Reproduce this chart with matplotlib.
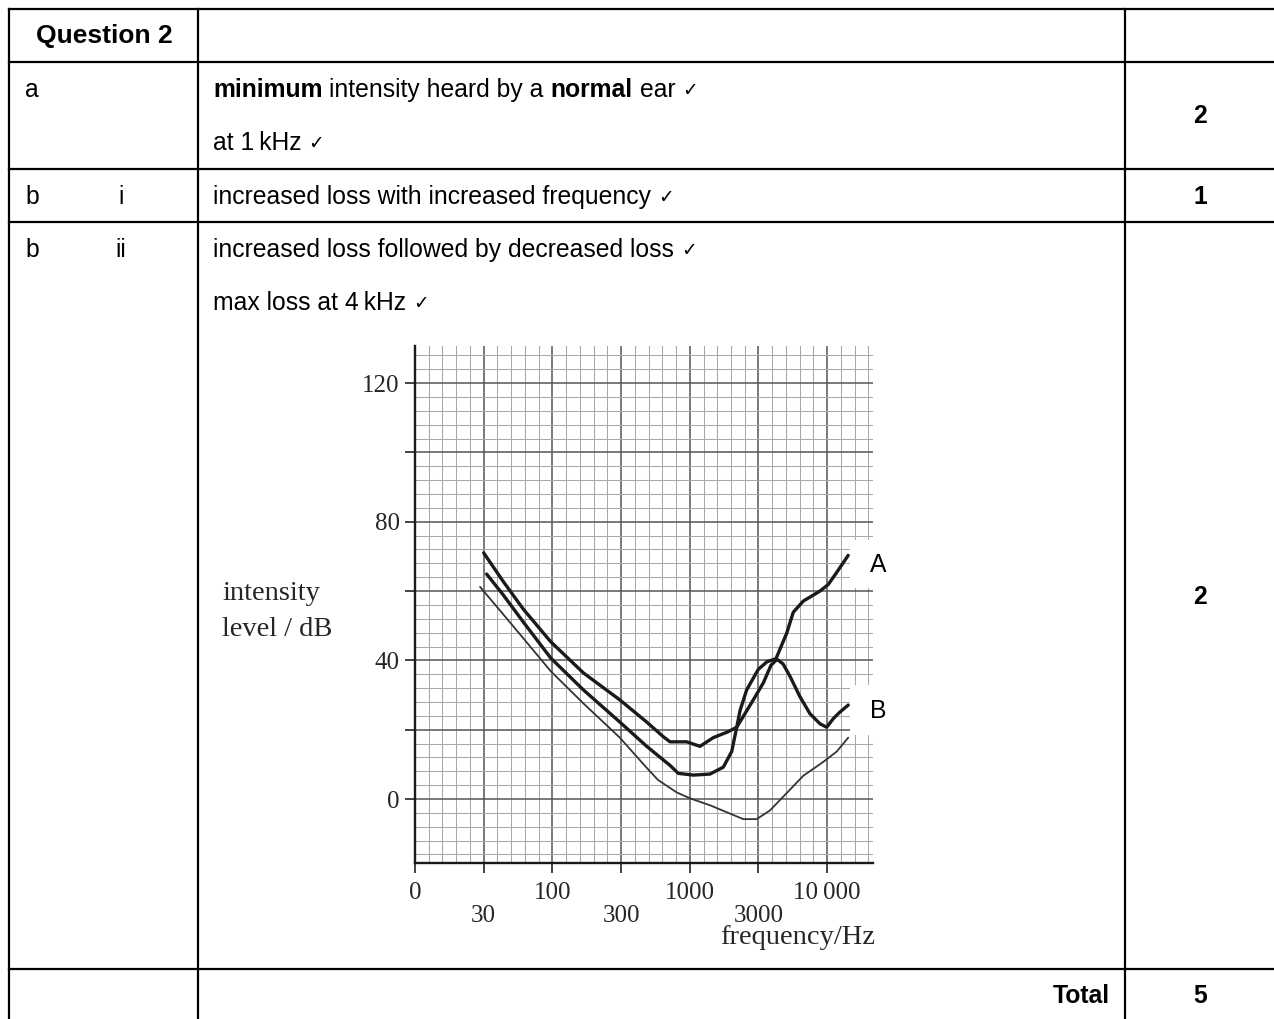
import numpy as np
import matplotlib
matplotlib.use("Agg")
import matplotlib.pyplot as plt
from matplotlib.lines import Line2D
from matplotlib.patches import Rectangle
import matplotlib.transforms as mtransforms

# ---------------- data ----------------
freq_A = [31.6, 42, 60, 97, 164, 294, 470, 707, 818, 1058, 1381, 1710, 1955, 2118, 2233,
          2484, 2990, 3483, 4078, 4915, 5523, 6577, 8815, 10176, 11650, 14000]
level_A = [64.9, 59.0, 51.1, 40.7, 31.5, 22.2, 15.2, 9.7, 7.4, 6.9, 7.2, 9.2, 13.7, 20.7, 25.5,
           31.5, 37.4, 39.6, 40.5, 47.8, 53.9, 57.1, 60.0, 61.9, 65.4, 70.3]

freq_B = [30, 42, 60, 97, 164, 294, 470, 628, 707, 948, 1177, 1456, 1842, 2118, 2761,
          3264, 3735, 4148, 4610, 5212, 6209, 7400, 8815, 9913, 11030, 12270, 14000]
level_B = [71.0, 62.9, 54.8, 45.4, 36.4, 28.6, 22.2, 18.0, 16.5, 16.5, 15.2, 17.7, 19.4, 20.7, 28.6,
           33.5, 38.6, 40.3, 39.0, 35.4, 29.5, 24.6, 21.7, 20.7, 23.2, 25.1, 27.1]

freq_N = [28.3, 42, 60, 97, 164, 294, 470, 573, 796, 1003, 1381, 1803, 2353, 2915, 3667, 4915,
          6577, 9330, 11650, 14000]
level_N = [61.2, 53.4, 46.4, 36.9, 27.6, 17.7, 9.0, 5.5, 1.9, 0.2, -1.8, -3.8, -5.8, -5.8, -3.3, 1.7,
           6.7, 10.7, 13.7, 17.7]

x_ticks_upper = [10, 100, 1000, 10000]
x_labels_upper = ["0", "100", "1000", "10\u2009000"]
x_ticks_lower = [30, 300, 3000]
x_labels_lower = ["30", "300", "3000"]
y_ticks = [0, 20, 40, 60, 80, 100, 120]
y_labels = ["0", "", "40", "", "80", "", "120"]

# ---------------- figure ----------------
W, H = 1274, 1019
fig = plt.figure(figsize=(W / 100, H / 100), dpi=100)
fig.patch.set_facecolor("white")

def fx(x):
    return x / W

def fy(y):
    return 1 - y / H

SANS = ["Liberation Sans", "DejaVu Sans"]
SERIF = ["Liberation Serif", "DejaVu Serif"]
FS = 17.8
CHECK = "\u2713"

bg = fig.add_axes([0, 0, 1, 1])
bg.set_xlim(0, 1)
bg.set_ylim(0, 1)
bg.axis("off")

# table lines
LW = 1.6
for xv in [9, 198, 1125]:
    bg.add_line(Line2D([fx(xv), fx(xv)], [fy(9), fy(1030)], color="black", lw=LW))
for yv in [9, 62, 169, 222, 969]:
    bg.add_line(Line2D([fx(9), fx(1290)], [fy(yv), fy(yv)], color="black", lw=LW))


def rich(x, y, parts):
    """parts: list of (text, weight); a small check mark is appended."""
    sp = 0.278 * FS
    prev = bg.text(fx(x), fy(y), parts[0][0], family=SANS, size=FS, weight=parts[0][1],
                   ha="left", va="center")
    for txt, wt in parts[1:]:
        prev = bg.annotate(txt, xy=(1, 0.5), xycoords=prev, xytext=(sp, 0),
                           textcoords="offset points", family=SANS, size=FS, weight=wt,
                           ha="left", va="center")
    bg.annotate(CHECK, xy=(1, 0.5), xycoords=prev, xytext=(sp, -0.5),
                textcoords="offset points", family=["DejaVu Sans"], size=13.5,
                ha="left", va="center")


# table texts
bg.text(fx(104), fy(36), "Question 2", family=SANS, size=19, weight="bold", ha="center", va="center")
bg.text(fx(25), fy(90), "a", family=SANS, size=FS, ha="left", va="center")
rich(213, 90, [("minimum", "bold"), ("intensity heard by a", "normal"), ("normal", "bold"),
               ("ear", "normal")])
rich(213, 143, [("at 1\u2009kHz", "normal")])
bg.text(fx(1200), fy(116), "2", family=SANS, size=FS, weight="bold", ha="center", va="center")

bg.text(fx(25), fy(197), "b", family=SANS, size=FS, ha="left", va="center")
bg.text(fx(121), fy(197), "i", family=SANS, size=FS, ha="center", va="center")
rich(213, 197, [("increased loss with increased frequency", "normal")])
bg.text(fx(1200), fy(197), "1", family=SANS, size=FS, weight="bold", ha="center", va="center")

bg.text(fx(25), fy(250), "b", family=SANS, size=FS, ha="left", va="center")
bg.text(fx(121), fy(250), "ii", family=SANS, size=FS, ha="center", va="center")
rich(213, 250, [("increased loss followed by decreased loss", "normal")])
rich(213, 303, [("max loss at 4\u2009kHz", "normal")])
bg.text(fx(1200), fy(597), "2", family=SANS, size=FS, weight="bold", ha="center", va="center")

bg.text(fx(1110), fy(996), "Total", family=SANS, size=FS, weight="bold", ha="right", va="center")
bg.text(fx(1200), fy(996), "5", family=SANS, size=FS, weight="bold", ha="center", va="center")

# ---------------- chart ----------------
ANCH_F = np.array([1, 3, 10, 30, 100, 300, 1000, 3000, 10000, 30000, 100000], dtype=float)
ANCH_I = np.arange(-2, 9, dtype=float)
LOG_A = np.log10(ANCH_F)

def fwd(f):
    f = np.asarray(f, dtype=float)
    return np.interp(np.log10(np.clip(f, 1e-6, None)), LOG_A, ANCH_I)

def inv(i):
    return 10 ** np.interp(np.asarray(i, dtype=float), ANCH_I, LOG_A)

ax = fig.add_axes([fx(415), fy(863), (873 - 415) / W, (863 - 346) / H])
ax.set_xscale("function", functions=(fwd, inv))
ax.set_xlim(10, float(inv(6.667)))
ax.set_ylim(-18.46, 130.7)
ax.set_facecolor("white")

ax.set_xticks(inv(np.arange(0, 7)))
ax.set_xticks(inv(np.arange(0, 6.7, 0.2)), minor=True)
ax.set_xticklabels([])
ax.set_yticks(y_ticks)
ax.set_yticklabels(y_labels, family=SERIF, size=18, color="#262626")
ax.set_yticks(np.arange(-16, 131, 4), minor=True)

ax.set_axisbelow(True)
ax.grid(which="major", color="#555555", lw=1.1)
ax.grid(which="minor", color="#a8a8a8", lw=0.75)
ax.tick_params(which="major", direction="out", length=7, width=1.2, color="#222222", pad=4)
ax.tick_params(which="minor", length=0)
for s in ["top", "right"]:
    ax.spines[s].set_visible(False)
for s in ["left", "bottom"]:
    ax.spines[s].set_linewidth(1.7)
    ax.spines[s].set_color("#1a1a1a")

ax.plot(freq_N, level_N, color="#333333", lw=1.3, solid_joinstyle="round", solid_capstyle="round")
ax.plot(freq_A, level_A, color="#1a1a1a", lw=2.4, solid_joinstyle="round", solid_capstyle="round")
ax.plot(freq_B, level_B, color="#1a1a1a", lw=2.4, solid_joinstyle="round", solid_capstyle="round")

trans = mtransforms.blended_transform_factory(ax.transData, fig.transFigure)
for f, lab in zip(x_ticks_upper, x_labels_upper):
    ax.text(f, fy(893), lab, transform=trans, family=SERIF, size=18, color="#262626",
            ha="center", va="center", clip_on=False)
for f, lab in zip(x_ticks_lower, x_labels_lower):
    ax.text(f, fy(916), lab, transform=trans, family=SERIF, size=18, color="#262626",
            ha="center", va="center", clip_on=False)

fig.text(fx(875), fy(938), "frequency/Hz", family=SERIF, size=20.5, color="#262626", ha="right", va="center")
fig.text(fx(222), fy(593), "intensity", family=SERIF, size=20.5, color="#262626", ha="left", va="center")
fig.text(fx(222), fy(630), "level / dB", family=SERIF, size=20.5, color="#262626", ha="left", va="center")

# label boxes A and B
for y0, y1, lab in [(540, 588, "A"), (685, 735, "B")]:
    fig.add_artist(Rectangle((fx(850), fy(y1)), (905 - 850) / W, (y1 - y0) / H,
                             transform=fig.transFigure, facecolor="white", edgecolor="none", zorder=5))
    fig.text(fx(878), fy((y0 + y1) / 2 + 1), lab, family=SANS, size=FS, ha="center", va="center", zorder=6)

fig.savefig("out.png", dpi=100, facecolor="white")
